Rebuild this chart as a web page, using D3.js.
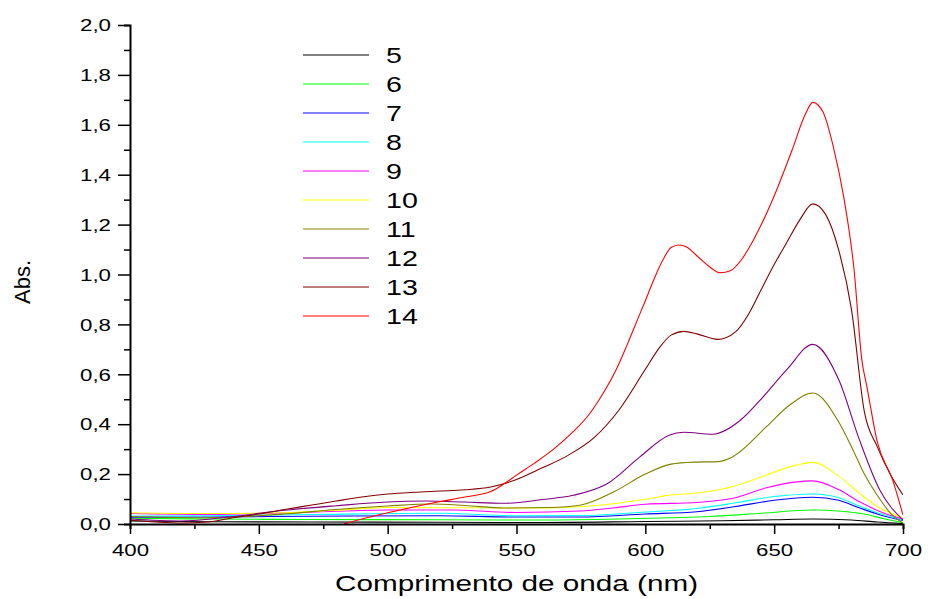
<!DOCTYPE html>
<html>
<head>
<meta charset="utf-8">
<script src="https://cdn.jsdelivr.net/npm/d3@7"></script>
<style>
  html, body { margin: 0; padding: 0; background: #fff; }
  svg { display: block; font-family: "Liberation Sans", Arial, sans-serif; }
</style>
</head>
<body>
<svg id="chart" width="928" height="599"></svg>
<script>
// spectra: [wavelength nm, absorbance]
const s5 = [[400,0.012],[430,0.009],[470,0.008],[520,0.007],[560,0.006],[600,0.01],[630,0.013],[650,0.017],[665,0.02],[680,0.016],[690,0.008],[700,0.002]];
const s6 = [[400,0.023],[430,0.02],[470,0.018],[520,0.017],[560,0.016],[590,0.02],[610,0.025],[625,0.03],[645,0.043],[665,0.056],[675,0.052],[685,0.04],[693,0.02],[700,0.005]];
const s7 = [[400,0.027],[430,0.028],[470,0.031],[520,0.033],[550,0.028],[575,0.028],[600,0.04],[620,0.049],[635,0.07],[650,0.095],[665,0.107],[675,0.095],[683,0.065],[690,0.04],[700,0.014]];
const s8 = [[400,0.032],[430,0.033],[470,0.038],[520,0.043],[550,0.033],[575,0.034],[600,0.048],[620,0.062],[635,0.085],[650,0.11],[665,0.12],[675,0.105],[683,0.072],[690,0.045],[700,0.016]];
const s9 = [[400,0.042],[430,0.038],[470,0.047],[500,0.056],[525,0.056],[550,0.046],[575,0.052],[588,0.065],[600,0.079],[620,0.086],[634,0.103],[647,0.145],[658,0.168],[665,0.173],[675,0.138],[683,0.09],[691,0.05],[700,0.02]];
const s10 = [[400,0.045],[430,0.042],[460,0.045],[480,0.055],[500,0.066],[530,0.065],[560,0.064],[585,0.078],[598,0.096],[610,0.116],[621,0.125],[634,0.15],[647,0.196],[658,0.235],[665,0.247],[675,0.192],[683,0.124],[691,0.064],[700,0.025]];
const s11 = [[400,0.03],[430,0.025],[460,0.04],[480,0.058],[500,0.072],[517,0.08],[530,0.074],[545,0.064],[563,0.066],[575,0.076],[588,0.13],[600,0.2],[610,0.24],[619,0.248],[628,0.25],[634,0.27],[647,0.39],[656,0.477],[665,0.525],[675,0.41],[680,0.31],[685,0.2],[690,0.115],[695,0.045],[700,0.003]];
const s12 = [[400,0.02],[420,0.012],[440,0.03],[460,0.055],[480,0.073],[500,0.088],[515,0.092],[530,0.088],[545,0.083],[560,0.098],[572,0.115],[585,0.16],[598,0.27],[609,0.355],[615,0.368],[626,0.36],[637,0.417],[644,0.49],[655,0.62],[665,0.72],[675,0.58],[683,0.34],[691,0.136],[700,0.016]];
const s13 = [[400,0.015],[410,0.008],[420,0.004],[430,0.008],[440,0.025],[450,0.04],[460,0.058],[470,0.075],[480,0.092],[490,0.108],[500,0.12],[510,0.127],[520,0.132],[530,0.137],[540,0.148],[550,0.178],[560,0.225],[570,0.275],[580,0.345],[590,0.46],[600,0.62],[605,0.7],[610,0.757],[615,0.772],[620,0.762],[628,0.74],[635,0.77],[640,0.84],[645,0.94],[650,1.04],[655,1.13],[660,1.22],[665,1.283],[670,1.24],[675,1.1],[680,0.86],[685,0.45],[690,0.31],[695,0.2],[700,0.116]];
const s14 = [[483,0],[490,0.02],[500,0.045],[510,0.068],[520,0.089],[530,0.108],[540,0.13],[545,0.16],[550,0.196],[557,0.244],[565,0.305],[572,0.37],[578,0.437],[582,0.497],[589,0.625],[593,0.72],[597,0.82],[600,0.895],[603,0.972],[607,1.062],[610,1.108],[613,1.118],[616,1.11],[620,1.075],[625,1.03],[629,1.007],[633,1.015],[637,1.055],[641,1.12],[645,1.2],[651,1.34],[657,1.5],[662,1.64],[665,1.69],[669,1.65],[673,1.51],[677,1.31],[681,1.02],[684,0.66],[686,0.55],[690,0.33],[696,0.176],[700,0.036]];

const seriesNames = ["5","6","7","8","9","10","11","12","13","14"];
const seriesData = [s5, s6, s7, s8, s9, s10, s11, s12, s13, s14];
const seriesColors = ["#000000","#00ff00","#0000ff","#00ffff","#ff00ff","#ffff00","#808000","#800080","#800000","#ff0000"];

const xTicks = [400, 450, 500, 550, 600, 650, 700];
const yTicks = [0, 0.2, 0.4, 0.6, 0.8, 1.0, 1.2, 1.4, 1.6, 1.8, 2.0];

const margin = { left: 130, right: 25, top: 25, bottom: 75 };
const width = 928, height = 599;
// the reference text is drawn wider than plain Arial
const stretch = 1.35;

const svg = d3.select("#chart");
const x = d3.scaleLinear().domain([400, 700]).range([margin.left, width - margin.right]);
const y = d3.scaleLinear().domain([0, 2]).range([height - margin.bottom, margin.top]);

svg.append("defs").append("clipPath").attr("id", "plot-clip")
  .append("rect")
  .attr("x", x(400)).attr("y", y(2))
  .attr("width", x(700) - x(400)).attr("height", y(0) - y(2));

const line = d3.line()
  .x((d) => x(d[0]))
  .y((d) => y(d[1]))
  .curve(d3.curveMonotoneX);

const plot = svg.append("g").attr("clip-path", "url(#plot-clip)");
seriesData.forEach((data, i) => {
  plot.append("path")
    .datum(data)
    .attr("fill", "none")
    .attr("stroke", seriesColors[i])
    .attr("stroke-width", 1.1)
    .attr("d", line);
});

// axes
const fmt = (v) => d3.format(".1f")(v).replace(".", ",");
const xAxis = svg.append("g").attr("transform", `translate(0,${y(0)})`);
xAxis.call(d3.axisBottom(x).tickValues(d3.range(400, 701, 25)).tickSize(5).tickFormat(""));
xAxis.call((g) => g.selectAll(".tick line").filter((d) => d % 50 === 0).attr("y2", 10));
xAxis.selectAll(".tick").filter((d) => xTicks.includes(d)).append("text")
  .attr("transform", `translate(0,32) scale(${stretch},1)`)
  .attr("fill", "#000").attr("text-anchor", "middle")
  .style("font-size", "16.5px").text((d) => d);

const yAxis = svg.append("g").attr("transform", `translate(${x(400)},0)`);
yAxis.call(d3.axisLeft(y).tickValues(d3.range(0, 2.01, 0.1)).tickSize(6).tickFormat(""));
yAxis.call((g) => g.selectAll(".tick line").filter((d) => Math.abs(d * 5 - Math.round(d * 5)) < 1e-6).attr("x2", -12));
yAxis.selectAll(".tick").filter((d) => yTicks.some((t) => Math.abs(t - d) < 1e-6)).append("text")
  .attr("transform", `translate(-19,0) scale(${stretch},1)`)
  .attr("dy", "0.35em").attr("fill", "#000").attr("text-anchor", "end")
  .style("font-size", "16.5px").text((d) => fmt(d));

svg.selectAll(".domain").attr("stroke", "#000").attr("stroke-width", 2);
svg.selectAll(".tick line").attr("stroke", "#000").attr("stroke-width", 1.5);

svg.append("text")
  .attr("transform", "translate(30,282) rotate(-90)")
  .attr("text-anchor", "middle")
  .style("font-size", "22px")
  .text("Abs.");

svg.append("text")
  .attr("transform", `translate(${(x(400) + x(700)) / 2},591) scale(${stretch},1)`)
  .attr("text-anchor", "middle")
  .style("font-size", "22px")
  .text("Comprimento de onda (nm)");

// legend
const legend = svg.append("g").attr("transform", "translate(303,55)");
seriesNames.forEach((name, i) => {
  const row = legend.append("g").attr("transform", `translate(0,${i * 29})`);
  row.append("line").attr("x1", 0).attr("x2", 66).attr("y1", 0).attr("y2", 0)
    .attr("stroke", seriesColors[i]).attr("stroke-width", 1.2);
  row.append("text").attr("transform", `translate(83,0) scale(1.3,1)`).attr("dy", "0.36em")
    .style("font-size", "22px").text(name);
});
</script>
</body>
</html>
